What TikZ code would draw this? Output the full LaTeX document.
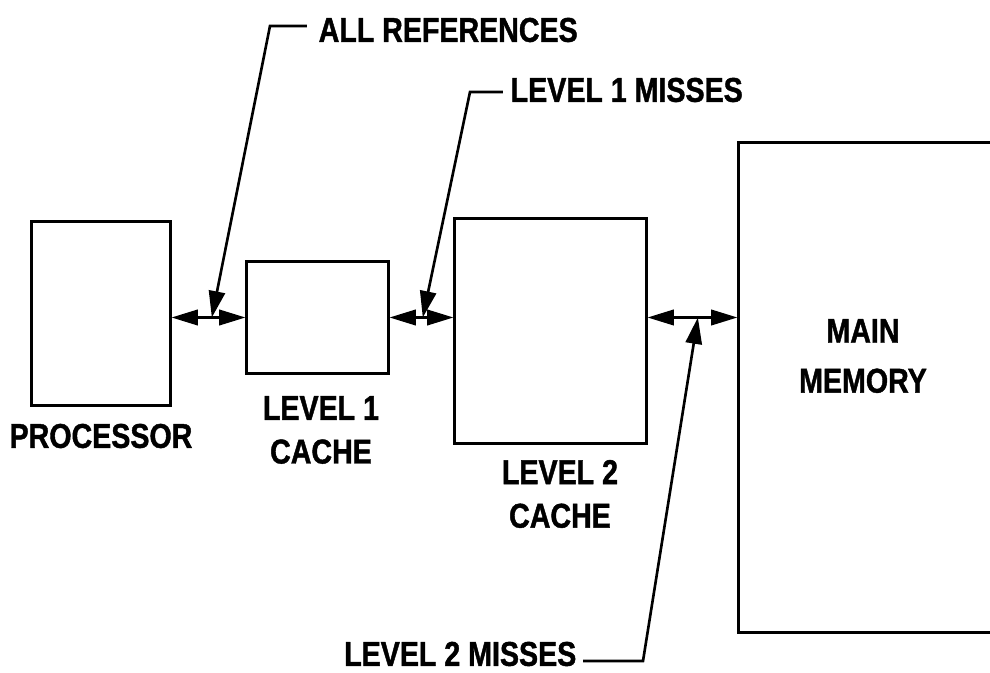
\documentclass[tikz,border=0pt]{standalone}
\usepackage{fontspec}
\setmainfont{Liberation Sans}[FakeStretch=0.83,BoldFeatures={FakeBold=1.2}]
\usetikzlibrary{arrows.meta,calc}
\begin{document}
\begin{tikzpicture}[x=0.01cm,y=-0.01cm,
  unit/.style={draw,line width=0.85pt,inner sep=0pt},
  bus/.style={{Triangle[length=7.5pt,width=4.4pt]}-{Triangle[length=7.5pt,width=4.4pt]},line width=0.75pt},
  pointer/.style={-{Triangle[length=7.5pt,width=4.6pt]},line width=0.75pt},
  lbl/.style={font=\fontsize{9.8}{12.4}\selectfont\bfseries,align=center,inner sep=0pt}]
\useasboundingbox (0,0) rectangle (990,673);
\node[unit,minimum width=1.38cm,minimum height=1.83cm] (proc) at (101,313.5) {};
\node[unit,minimum width=1.41cm,minimum height=1.11cm] (lone) at (317.5,317.5) {};
\node[unit,minimum width=1.91cm,minimum height=2.24cm] (ltwo) at (550.5,331) {};
\node[unit,minimum width=2.71cm,minimum height=4.89cm] (mem) at (874.5,387.5) {};
\node[lbl] (proclbl) at (101,436) {PROCESSOR};
\node[lbl] (lonelbl) at (321,430) {LEVEL 1\\CACHE};
\node[lbl] (ltwolbl) at (560,494) {LEVEL 2\\CACHE};
\node[lbl] (memlbl) at (863,356) {MAIN\\[1.8pt]MEMORY};
\node[lbl,anchor=west] (allref) at (318,30) {ALL REFERENCES};
\node[lbl,anchor=west] (missone) at (510,90) {LEVEL 1 MISSES};
\node[lbl,anchor=east] (misstwo) at (577,654) {LEVEL 2 MISSES};
\draw[bus] (proc.east |- lone.west) -- (lone.west);
\draw[bus] (lone.east) -- (lone.east -| ltwo.west);
\draw[bus] (ltwo.east |- lone.east) -- (mem.west |- lone.east);
\coordinate (reftip) at ($(proc.east |- lone.west)!0.545!(lone.west)$);
\coordinate (onetip) at ($(lone.east)!0.52!(lone.east -| ltwo.west)$);
\coordinate (twotip) at ($(ltwo.east |- lone.east)!0.56!(mem.west |- lone.east)$);
\draw[pointer] ([xshift=-1.1mm,yshift=0.4mm]allref.west) -- ++(-37,0) -- (reftip);
\draw[pointer] ([xshift=-0.7mm,yshift=-0.2mm]missone.west) -- ++(-33,0) -- (onetip);
\draw[pointer] ([xshift=0.6mm,yshift=-0.7mm]misstwo.east) -- ++(60,0) -- (twotip);
\end{tikzpicture}
\end{document}
